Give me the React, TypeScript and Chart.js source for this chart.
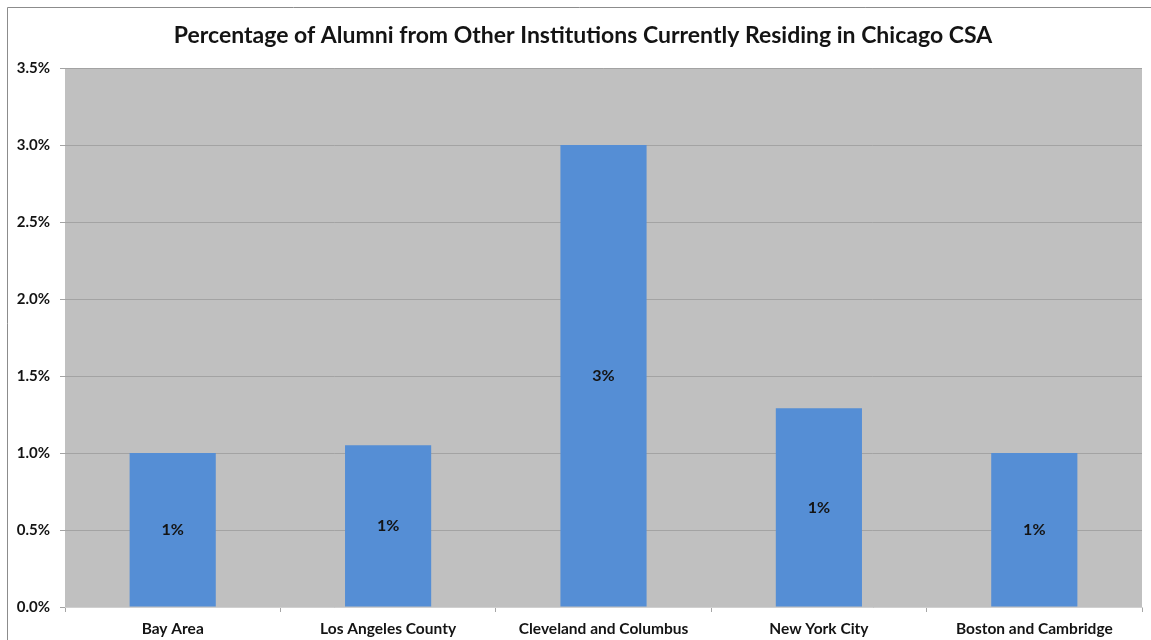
import React, { useEffect, useRef } from "react";
import { Chart, registerables } from "chart.js";

Chart.register(...registerables);

const categories = ["Bay Area", "Los Angeles County", "Cleveland and Columbus", "New York City", "Boston and Cambridge"];
const values = [1.0, 1.05, 3.0, 1.29, 1.0];
const yTicks = [0, 0.5, 1.0, 1.5, 2.0, 2.5, 3.0, 3.5];
const titleText = "Percentage of Alumni from Other Institutions Currently Residing in Chicago CSA";

const FONT = "Lato, 'Liberation Sans', sans-serif";
const TEXT = "#141414";

const decorPlugin = {
  id: "decor",
  beforeDraw(chart: any) {
    const { ctx, chartArea } = chart;
    ctx.save();
    ctx.fillStyle = "#ffffff";
    ctx.fillRect(0, 0, chart.width, chart.height);
    ctx.strokeStyle = "#8c8c8c";
    ctx.lineWidth = 1;
    ctx.beginPath();
    ctx.moveTo(7.5, chart.height);
    ctx.lineTo(7.5, 7.5);
    ctx.lineTo(chart.width, 7.5);
    ctx.stroke();
    ctx.fillStyle = "#c0c0c0";
    ctx.fillRect(chartArea.left, chartArea.top, chartArea.right - chartArea.left, chartArea.bottom - chartArea.top);
    ctx.fillStyle = TEXT;
    ctx.font = `bold 23px ${FONT}`;
    ctx.textAlign = "center";
    ctx.textBaseline = "middle";
    ctx.fillText(titleText, 583, 36);
    ctx.restore();
  },
  afterDatasetsDraw(chart: any) {
    const { ctx } = chart;
    const meta = chart.getDatasetMeta(0);
    ctx.save();
    ctx.fillStyle = TEXT;
    ctx.font = `bold 16px ${FONT}`;
    ctx.textAlign = "center";
    ctx.textBaseline = "middle";
    meta.data.forEach((bar: any, i: number) => {
      const mid = (bar.y + bar.base) / 2;
      ctx.fillText(values[i].toFixed(0) + "%", bar.x, mid);
    });
    ctx.restore();
  },
};

export default function App() {
  const ref = useRef<HTMLCanvasElement>(null);
  useEffect(() => {
    document.body.style.margin = "0";
    const chart = new Chart(ref.current!, {
      type: "bar",
      data: {
        labels: categories,
        datasets: [
          {
            data: values,
            backgroundColor: "#558ed5",
            borderWidth: 0,
            categoryPercentage: 1,
            barPercentage: 0.4,
          },
        ],
      },
      options: {
        animation: false,
        responsive: false,
        layout: { padding: { top: 68, right: 9, left: 0, bottom: 0 } },
        plugins: { legend: { display: false }, tooltip: { enabled: false }, title: { display: false } },
        scales: {
          x: {
            offset: true,
            grid: { offset: true, drawOnChartArea: false, drawTicks: true, tickLength: 5, color: "#a6a6a6" },
            border: { display: true, color: "#d0d0d0" },
            ticks: { color: TEXT, font: { family: FONT, size: 15.5, weight: "bold" }, padding: 8, maxRotation: 0 },
            afterFit(scale: any) {
              scale.height = 33;
            },
          },
          y: {
            min: 0,
            max: 3.5,
            afterBuildTicks(scale: any) {
              scale.ticks = yTicks.map((v) => ({ value: v }));
            },
            grid: { color: "#a3a3a3", tickLength: 5, drawTicks: true },
            border: { display: false },
            ticks: {
              color: TEXT,
              font: { family: FONT, size: 15, weight: "bold" },
              padding: 10,
              callback: (v: any) => Number(v).toFixed(1) + "%",
            },
            afterFit(scale: any) {
              scale.width = 65;
            },
          },
        },
      },
      plugins: [decorPlugin],
    });
    return () => chart.destroy();
  }, []);
  return <canvas ref={ref} width={1151} height={640} style={{ display: "block" }} />;
}
